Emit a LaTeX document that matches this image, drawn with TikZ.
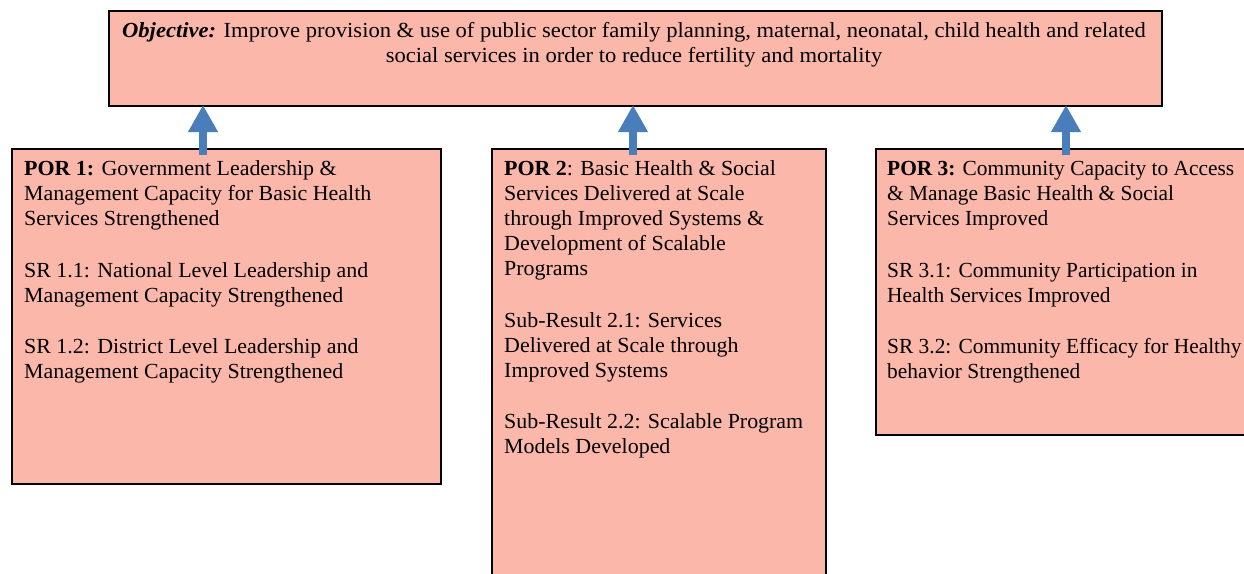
\documentclass[tikz,border=0pt]{standalone}
\usepackage{fontspec}
\setmainfont{Liberation Serif}[FakeStretch=1.02]
\newfontfamily\objfont{Liberation Serif}[FakeStretch=1.05]
\newfontfamily\narrowfont{Liberation Serif}[FakeStretch=0.995]
\usetikzlibrary{arrows.meta}
\definecolor{boxfill}{RGB}{251,183,169}
\definecolor{arrowblue}{RGB}{74,126,187}
\tikzset{
  box/.style={draw=black, line width=2pt, fill=boxfill, rectangle, inner sep=0pt},
  txt/.style={anchor=north west, align=left, inner sep=0pt, font=\fontsize{21.5}{25}\selectfont},
  upArrow/.style={draw=arrowblue, line width=8pt, -{Triangle[width=28pt,length=27pt]}, shorten <=-7pt, shorten >=-2pt},
}
\begin{document}
\begin{tikzpicture}[x=1pt,y=-1pt]
\useasboundingbox (0,0) rectangle (1244,573);
% boxes
\node[box, minimum width=1053pt, minimum height=95pt, anchor=north west] (obj) at (108,10) {};
\node[box, minimum width=429pt, minimum height=335pt, anchor=north west] (p1) at (11,148) {};
\node[box, minimum width=334pt, minimum height=440pt, anchor=north west] (p2) at (491,148) {};
\node[box, minimum width=380pt, minimum height=286pt, anchor=north west] (p3) at (875,148) {};
% objective text
\node[anchor=north, align=center, inner sep=0pt, font=\objfont\fontsize{21.5}{25}\selectfont] (objtxt) at (634,19.5)
  {\strut\textbf{\textit{Objective:}} Improve provision \& use of public sector family planning, maternal, neonatal, child health and related\\
   social services in order to reduce fertility and mortality};
% box texts
\node[txt] (t1) at (24,157.5) {\strut\textbf{POR 1:} Government Leadership \&\\
Management Capacity for Basic Health\\
Services Strengthened\\[27pt]
SR 1.1: National Level Leadership and\\
Management Capacity Strengthened\\[26pt]
SR 1.2: District Level Leadership and\\
Management Capacity Strengthened};
\node[txt] (t2) at (504,157.5) {\strut\textbf{POR 2}: Basic Health \& Social\\
Services Delivered at Scale\\
through Improved Systems \&\\
Development of Scalable\\
Programs\\[27pt]
Sub-Result 2.1: Services\\
Delivered at Scale through\\
Improved Systems\\[26pt]
Sub-Result 2.2: Scalable Program\\
Models Developed};
\node[txt, font=\narrowfont\fontsize{21.5}{25}\selectfont] (t3) at (887,157.5) {\strut\textbf{POR 3:} Community Capacity to Access\\
\& Manage Basic Health \& Social\\
Services Improved\\[27pt]
SR 3.1: Community Participation in\\
Health Services Improved\\[26pt]
SR 3.2: Community Efficacy for Healthy\\
behavior Strengthened};
% arrows
\draw[upArrow] (p1.north -| 203,0) -- (obj.south -| 203,0);
\draw[upArrow] (p2.north -| 633,0) -- (obj.south -| 633,0);
\draw[upArrow] (p3.north -| 1066,0) -- (obj.south -| 1066,0);
\end{tikzpicture}
\end{document}
